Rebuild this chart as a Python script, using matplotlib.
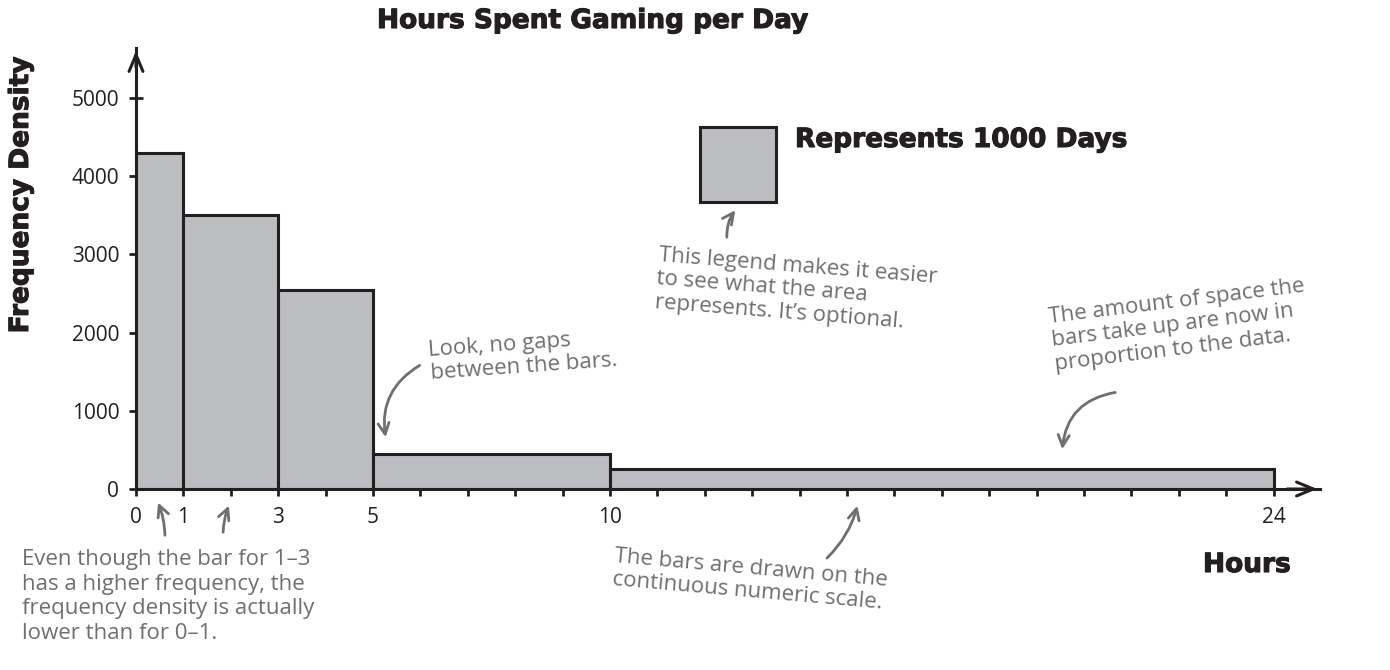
"""
Histogram of hours spent gaming per day, drawn with frequency density
"""
import matplotlib.pyplot as plt
import matplotlib.patheffects as pe
from matplotlib.patches import Rectangle

bin_edges = [0, 1, 3, 5, 10, 24]
densities = [4300, 3500, 2550, 450, 250]
x_tick_labels = {0: "0", 1: "1", 3: "3", 5: "5", 10: "10", 24: "24"}
y_ticks = [0, 1000, 2000, 3000, 4000, 5000]

BAR = "#bcbdc0"
INK = "#231f20"
NOTE = "#6f6f6f"
H = 670


def px(x, y):
    """top-left pixel -> figure pixel coords"""
    return (x, H - y)


fig = plt.figure(figsize=(13.9, 6.7), dpi=100)
ax = fig.add_axes([136 / 1390, 181 / 670, 1184 / 1390, 441 / 670])

lefts = bin_edges[:-1]
widths = [b - a for a, b in zip(bin_edges[:-1], bin_edges[1:])]
ax.bar(lefts, densities, width=widths, align="edge", color=BAR,
       edgecolor=INK, linewidth=2.2, zorder=2)

ax.set_xlim(0, 24.98)
ax.set_ylim(0, 5640)

for s in ["top", "right"]:
    ax.spines[s].set_visible(False)
for s in ["left", "bottom"]:
    ax.spines[s].set_linewidth(2.2)
    ax.spines[s].set_color(INK)

# arrow heads on axes
ax.annotate("", xy=(1.0, 0), xytext=(0.97, 0), xycoords="axes fraction",
            arrowprops=dict(arrowstyle="->,head_length=1.2,head_width=0.5",
                            color=INK, lw=2.2), annotation_clip=False)
ax.annotate("", xy=(0, 1.0), xytext=(0, 0.95), xycoords="axes fraction",
            arrowprops=dict(arrowstyle="->,head_length=1.2,head_width=0.5",
                            color=INK, lw=2.2), annotation_clip=False)

ax.set_xticks(range(25))
ax.set_xticklabels([x_tick_labels.get(i, "") for i in range(25)])
ax.set_yticks(y_ticks)
ax.set_yticklabels([str(v) for v in y_ticks])
ax.tick_params(axis="both", direction="inout", length=10, width=2,
               color=INK, labelcolor=INK, labelsize=15)
ax.tick_params(axis="x", pad=8)
ax.tick_params(axis="y", pad=7)
for lab in ax.get_xticklabels() + ax.get_yticklabels():
    lab.set_family("Open Sans")

bold = dict(family="DejaVu Sans", weight="bold", color=INK, fontsize=19,
            path_effects=[pe.withStroke(linewidth=0.8, foreground=INK)])
fig.text(377, H - 21, "Hours Spent Gaming per Day", transform=None,
         ha="left", va="center", **bold)
fig.text(21, H - 195, "Frequency Density", transform=None, rotation=90,
         ha="center", va="center", **bold)
fig.text(1203, H - 565, "Hours", transform=None, ha="left", va="center",
         **bold)

# legend square (data coords)
ax.add_patch(Rectangle((11.9, 3670), 1.6, 960, facecolor=BAR,
                       edgecolor=INK, linewidth=2.2, clip_on=False))
fig.text(795, H - 140, "Represents 1000 Days", transform=None, ha="left",
         va="center", **bold)

note = dict(family="Open Sans", color=NOTE, fontsize=16, linespacing=1.15)
arrow = dict(arrowstyle="->,head_length=0.8,head_width=0.4", color=NOTE,
             lw=2)

fig.text(22, H - 549, "Even though the bar for 1\u20133\n"
         "has a higher frequency, the\n"
         "frequency density is actually\n"
         "lower than for 0\u20131.", transform=None, ha="left", va="top",
         **dict(note, linespacing=1.22))
ax.annotate("", xy=px(157, 500), xytext=px(165, 538), xycoords="figure pixels",
            arrowprops=dict(connectionstyle="arc3,rad=0.1", **arrow))
ax.annotate("", xy=px(230, 503), xytext=px(223, 535), xycoords="figure pixels",
            arrowprops=dict(connectionstyle="arc3,rad=-0.1", **arrow))

fig.text(428, H - 327, "Look, no gaps\nbetween the bars.", transform=None,
         ha="left", va="top", rotation=4, **note)
ax.annotate("", xy=px(386, 440), xytext=px(422, 364),
            xycoords="figure pixels",
            arrowprops=dict(connectionstyle="arc3,rad=0.35", **arrow))

fig.text(654, H - 245, "This legend makes it easier\nto see what the area\n"
         "represents. It\u2019s optional.", transform=None, ha="left",
         va="top", rotation=-4.5, **note)
ax.annotate("", xy=px(737, 208), xytext=px(727, 240),
            xycoords="figure pixels",
            arrowprops=dict(connectionstyle="arc3,rad=-0.2", **arrow))

fig.text(1312, H - 276, "The amount of space the\nbars take up are now in\n"
         "proportion to the data.", transform=None, ha="right", va="top",
         rotation=7, multialignment="left", **note)
ax.annotate("", xy=px(1062, 452), xytext=px(1118, 392),
            xycoords="figure pixels",
            arrowprops=dict(connectionstyle="arc3,rad=0.4", **arrow))

fig.text(612, H - 546, "The bars are drawn on the\ncontinuous numeric scale.",
         transform=None, ha="left", va="top", rotation=-5, **note)
ax.annotate("", xy=px(858, 503), xytext=px(825, 560),
            xycoords="figure pixels",
            arrowprops=dict(connectionstyle="arc3,rad=0.15", **arrow))

plt.savefig("out.png", dpi=100)
